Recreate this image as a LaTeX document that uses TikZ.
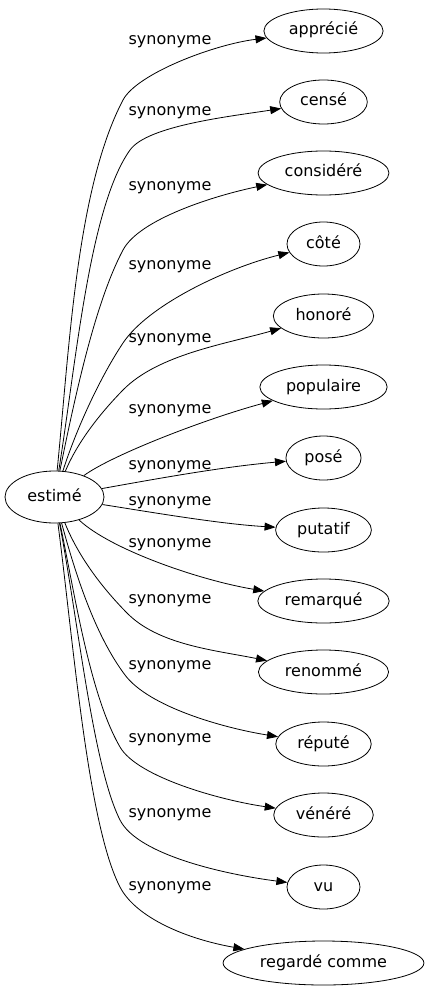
\documentclass[tikz,border=0pt]{standalone}
\usepackage{fontspec}
\setmainfont{DejaVu Sans}
\usepackage{tikz}
\usetikzlibrary{arrows.meta, shapes.geometric}

\begin{document}
\begin{tikzpicture}[
  x=1pt, y=-1pt,
  word/.style = {draw, ellipse, line width=0.8pt, inner xsep=7.5pt, inner ysep=7pt,
                 text height=12pt, text depth=4pt, minimum width=73pt, minimum height=44pt,
                 font=\fontsize{16}{19}\selectfont},
  lab/.style  = {inner sep=0pt, font=\fontsize{16}{19}\selectfont},
  arr/.style  = {-{Triangle[length=11pt, width=8pt]}, line width=0.8pt},
]
\useasboundingbox (0,0) rectangle (424,995);

% ── Source word ──────────────────────────────────────────────────────────────
\node[word, minimum width=99pt, minimum height=52pt] (est) at (54.5,497) {estimé};

% ── Synonyms ─────────────────────────────────────────────────────────────────
\node[word] (app) at (323.5,31)  {apprécié};
\node[word] (cen) at (323.5,102) {censé};
\node[word] (con) at (323.5,173) {considéré};
\node[word] (cot) at (323.5,244) {côté};
\node[word] (hon) at (323.5,316) {honoré};
\node[word] (pop) at (323.5,387) {populaire};
\node[word] (pos) at (323.5,458) {posé};
\node[word] (put) at (323.5,530) {putatif};
\node[word] (rem) at (323.5,601) {remarqué};
\node[word] (ren) at (323.5,672) {renommé};
\node[word] (rep) at (323.5,744) {réputé};
\node[word] (ven) at (323.5,815) {vénéré};
\node[word] (vu)  at (323.5,887) {vu};
\node[word] (reg) at (323.5,963) {regardé comme};

% ── Edge labels ──────────────────────────────────────────────────────────────
\node[lab] (s1)  at (170,42)  {synonyme};
\node[lab] (s2)  at (170,113) {synonyme};
\node[lab] (s3)  at (170,188) {synonyme};
\node[lab] (s4)  at (170,267) {synonyme};
\node[lab] (s5)  at (170,340) {synonyme};
\node[lab] (s6)  at (170,411) {synonyme};
\node[lab] (s7)  at (170,467) {synonyme};
\node[lab] (s8)  at (170,503) {synonyme};
\node[lab] (s9)  at (170,545) {synonyme};
\node[lab] (s10) at (170,601) {synonyme};
\node[lab] (s11) at (170,667) {synonyme};
\node[lab] (s12) at (170,740) {synonyme};
\node[lab] (s13) at (170,815) {synonyme};
\node[lab] (s14) at (170,888) {synonyme};

% ── Edges ────────────────────────────────────────────────────────────────────
\draw[arr] (est) .. controls (69.4,347.7) and (76.5,188.5) .. (123,100)
                 .. controls (137,73.5) and (214.3,44.4) .. (app);
\draw[arr] (est) .. controls (76,363.5) and (89.3,207) .. (130,150)
                 .. controls (147.4,125.6) and (230,116.4) .. (cen);
\draw[arr] (est) .. controls (75,396.7) and (94.9,303) .. (123,250)
                 .. controls (139.4,219) and (214.8,195.5) .. (con);
\draw[arr] (est) .. controls (77,427) and (101,376) .. (123,343)
                 .. controls (147.8,305.5) and (225.5,268.3) .. (cot);
\draw[arr] (est) .. controls (77.6,442) and (99.9,413.6) .. (123,390)
                 .. controls (158,354.3) and (226.3,343.9) .. (hon);
\draw[arr] (est) .. controls (112,455) and (205,419) .. (pop);
\draw[arr] (est) .. controls (150,480) and (220,467) .. (pos);
\draw[arr] (est) .. controls (150,512) and (220,524) .. (put);
\draw[arr] (est) .. controls (110.8,549.7) and (199.4,580.2) .. (rem);
\draw[arr] (est) .. controls (78,555.7) and (101,586.6) .. (127,613)
                 .. controls (158.5,645) and (215.2,650.2) .. (ren);
\draw[arr] (est) .. controls (75.8,575.2) and (95,635) .. (125,675)
                 .. controls (149,707) and (223.5,728) .. (rep);
\draw[arr] (est) .. controls (75.6,598.4) and (90,695) .. (120,747)
                 .. controls (137.5,777.3) and (221.4,800.4) .. (ven);
\draw[arr] (est) .. controls (78,620) and (93,766.4) .. (120,820)
                 .. controls (138,855.7) and (228.3,874.9) .. (vu);
\draw[arr] (est) .. controls (73.6,644) and (87.8,824.8) .. (120,887)
                 .. controls (136,918) and (187.2,939.1) .. (reg);

\end{tikzpicture}
\end{document}
